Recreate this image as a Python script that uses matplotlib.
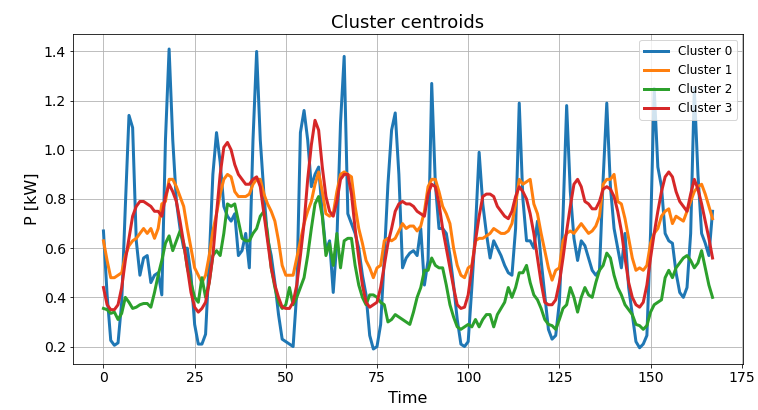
import numpy as np
import matplotlib
matplotlib.use("Agg")
import matplotlib.pyplot as plt

# hourly centroid profiles for one week
cluster_0 = [0.67, 0.41, 0.225, 0.205, 0.215, 0.38, 0.77, 1.14, 1.09, 0.63,
             0.49, 0.56, 0.57, 0.46, 0.49, 0.50, 0.41, 1.04, 1.41, 1.04,
             0.79, 0.68, 0.60, 0.60, 0.49, 0.29, 0.21, 0.21, 0.25, 0.55,
             0.90, 1.07, 0.95, 0.77, 0.73, 0.71, 0.74, 0.57, 0.59, 0.66,
             0.52, 1.04, 1.40, 1.04, 0.82, 0.64, 0.57, 0.46, 0.33, 0.23,
             0.22, 0.21, 0.20, 0.42, 1.07, 1.16, 1.04, 0.85, 0.90, 0.93,
             0.74, 0.59, 0.63, 0.42, 0.63, 1.11, 1.38, 0.74, 0.70, 0.66,
             0.60, 0.49, 0.41, 0.245, 0.19, 0.20, 0.29, 0.56, 0.86, 1.08,
             1.15, 0.90, 0.52, 0.56, 0.58, 0.59, 0.57, 0.68, 0.45, 0.55,
             1.27, 0.86, 0.68, 0.68, 0.66, 0.57, 0.45, 0.31, 0.21, 0.20,
             0.22, 0.44, 0.68, 0.99, 0.78, 0.66, 0.56, 0.63, 0.60, 0.57,
             0.53, 0.50, 0.49, 0.68, 1.19, 0.80, 0.63, 0.63, 0.60, 0.71,
             0.55, 0.41, 0.27, 0.23, 0.245, 0.38, 0.73, 1.18, 0.83, 0.64,
             0.55, 0.63, 0.61, 0.56, 0.51, 0.49, 0.51, 0.88, 1.19, 0.85,
             0.68, 0.60, 0.52, 0.66, 0.44, 0.33, 0.22, 0.195, 0.21, 0.245,
             0.66, 1.25, 0.93, 0.85, 0.66, 0.63, 0.62, 0.50, 0.42, 0.40,
             0.44, 0.66, 1.25, 0.90, 0.66, 0.62, 0.57, 0.75]

cluster_1 = [0.63, 0.55, 0.48, 0.48, 0.49, 0.50, 0.57, 0.61, 0.63, 0.64,
             0.66, 0.68, 0.66, 0.68, 0.64, 0.68, 0.78, 0.79, 0.88, 0.88,
             0.85, 0.81, 0.77, 0.68, 0.60, 0.52, 0.49, 0.46, 0.49, 0.57,
             0.67, 0.74, 0.82, 0.88, 0.90, 0.89, 0.83, 0.81, 0.81, 0.81,
             0.82, 0.86, 0.88, 0.88, 0.82, 0.78, 0.75, 0.71, 0.63, 0.53,
             0.49, 0.49, 0.49, 0.56, 0.63, 0.70, 0.75, 0.79, 0.86, 0.91,
             0.83, 0.74, 0.73, 0.74, 0.83, 0.90, 0.91, 0.90, 0.89, 0.77,
             0.68, 0.62, 0.55, 0.52, 0.48, 0.52, 0.53, 0.63, 0.64, 0.63,
             0.64, 0.67, 0.70, 0.68, 0.69, 0.69, 0.67, 0.69, 0.75, 0.85,
             0.88, 0.88, 0.83, 0.77, 0.74, 0.70, 0.60, 0.53, 0.49, 0.48,
             0.52, 0.53, 0.63, 0.64, 0.64, 0.65, 0.66, 0.68, 0.67, 0.66,
             0.66, 0.67, 0.70, 0.78, 0.88, 0.86, 0.87, 0.88, 0.78, 0.74,
             0.66, 0.59, 0.52, 0.47, 0.51, 0.52, 0.63, 0.66, 0.67, 0.66,
             0.68, 0.70, 0.68, 0.66, 0.67, 0.69, 0.73, 0.86, 0.88, 0.88,
             0.90, 0.79, 0.78, 0.72, 0.64, 0.56, 0.51, 0.52, 0.51, 0.53,
             0.62, 0.66, 0.68, 0.73, 0.75, 0.76, 0.70, 0.73, 0.72, 0.71,
             0.75, 0.79, 0.83, 0.85, 0.86, 0.82, 0.77, 0.72]

cluster_2 = [0.355, 0.35, 0.335, 0.34, 0.31, 0.335, 0.40, 0.38, 0.355, 0.36,
             0.37, 0.375, 0.375, 0.36, 0.42, 0.49, 0.55, 0.62, 0.65, 0.59,
             0.63, 0.67, 0.62, 0.52, 0.46, 0.40, 0.38, 0.48, 0.40, 0.46,
             0.57, 0.59, 0.57, 0.66, 0.78, 0.77, 0.78, 0.71, 0.64, 0.63,
             0.63, 0.66, 0.68, 0.73, 0.75, 0.66, 0.52, 0.44, 0.38, 0.355,
             0.37, 0.44, 0.37, 0.40, 0.44, 0.48, 0.57, 0.68, 0.78, 0.81,
             0.73, 0.57, 0.62, 0.53, 0.66, 0.52, 0.63, 0.64, 0.64, 0.53,
             0.45, 0.40, 0.37, 0.41, 0.41, 0.40, 0.38, 0.37, 0.30, 0.31,
             0.33, 0.32, 0.31, 0.30, 0.29, 0.34, 0.40, 0.44, 0.51, 0.51,
             0.56, 0.53, 0.52, 0.52, 0.45, 0.37, 0.32, 0.28, 0.27, 0.28,
             0.29, 0.28, 0.31, 0.28, 0.31, 0.33, 0.33, 0.28, 0.33, 0.355,
             0.38, 0.44, 0.40, 0.44, 0.50, 0.50, 0.53, 0.46, 0.41, 0.39,
             0.355, 0.31, 0.29, 0.285, 0.27, 0.31, 0.355, 0.37, 0.44, 0.40,
             0.34, 0.40, 0.44, 0.41, 0.40, 0.46, 0.51, 0.53, 0.58, 0.56,
             0.49, 0.44, 0.41, 0.37, 0.35, 0.33, 0.29, 0.285, 0.27, 0.285,
             0.34, 0.37, 0.38, 0.39, 0.48, 0.51, 0.48, 0.52, 0.54, 0.56,
             0.57, 0.55, 0.52, 0.54, 0.59, 0.52, 0.45, 0.40]

cluster_3 = [0.44, 0.37, 0.35, 0.35, 0.37, 0.44, 0.55, 0.64, 0.73, 0.77,
             0.79, 0.79, 0.78, 0.77, 0.75, 0.75, 0.73, 0.81, 0.86, 0.83,
             0.79, 0.71, 0.62, 0.52, 0.42, 0.36, 0.34, 0.355, 0.38, 0.46,
             0.57, 0.74, 0.90, 1.01, 1.03, 1.00, 0.94, 0.90, 0.88, 0.86,
             0.86, 0.88, 0.89, 0.85, 0.74, 0.63, 0.52, 0.45, 0.40, 0.36,
             0.355, 0.355, 0.38, 0.45, 0.57, 0.70, 0.88, 1.02, 1.12, 1.08,
             0.93, 0.81, 0.75, 0.73, 0.79, 0.88, 0.90, 0.90, 0.82, 0.68,
             0.56, 0.45, 0.38, 0.36, 0.37, 0.38, 0.44, 0.53, 0.62, 0.68,
             0.75, 0.78, 0.79, 0.78, 0.78, 0.77, 0.75, 0.74, 0.73, 0.82,
             0.86, 0.85, 0.78, 0.68, 0.60, 0.52, 0.44, 0.37, 0.355, 0.36,
             0.41, 0.52, 0.63, 0.73, 0.81, 0.82, 0.82, 0.81, 0.77, 0.75,
             0.73, 0.72, 0.75, 0.81, 0.85, 0.83, 0.80, 0.74, 0.66, 0.56,
             0.46, 0.38, 0.37, 0.37, 0.39, 0.46, 0.56, 0.67, 0.77, 0.86,
             0.88, 0.85, 0.79, 0.78, 0.76, 0.76, 0.79, 0.84, 0.85, 0.84,
             0.81, 0.75, 0.67, 0.56, 0.46, 0.40, 0.37, 0.36, 0.38, 0.45,
             0.56, 0.66, 0.75, 0.83, 0.89, 0.91, 0.89, 0.83, 0.79, 0.77,
             0.75, 0.82, 0.88, 0.84, 0.78, 0.71, 0.64, 0.56]

centroids = [cluster_0, cluster_1, cluster_2, cluster_3]
labels = ["Cluster 0", "Cluster 1", "Cluster 2", "Cluster 3"]

W, H = 758, 410
fig = plt.figure(figsize=(W / 72, H / 72), dpi=72)
ax = fig.add_axes([73 / W, (H - 364) / H, (743 - 73) / W, (364 - 34) / H])

for c, lab in zip(centroids, labels):
    ax.plot(np.arange(len(c)), c, linewidth=3, label=lab)

ax.set_title("Cluster centroids", fontsize=18)
ax.set_xlabel("Time", fontsize=16, labelpad=6)
ax.set_ylabel("P [kW]", fontsize=16)
ax.tick_params(labelsize=14)
ax.grid(True)
ax.legend(loc="upper right", fontsize=12)

fig.savefig("out.png", dpi=72)
